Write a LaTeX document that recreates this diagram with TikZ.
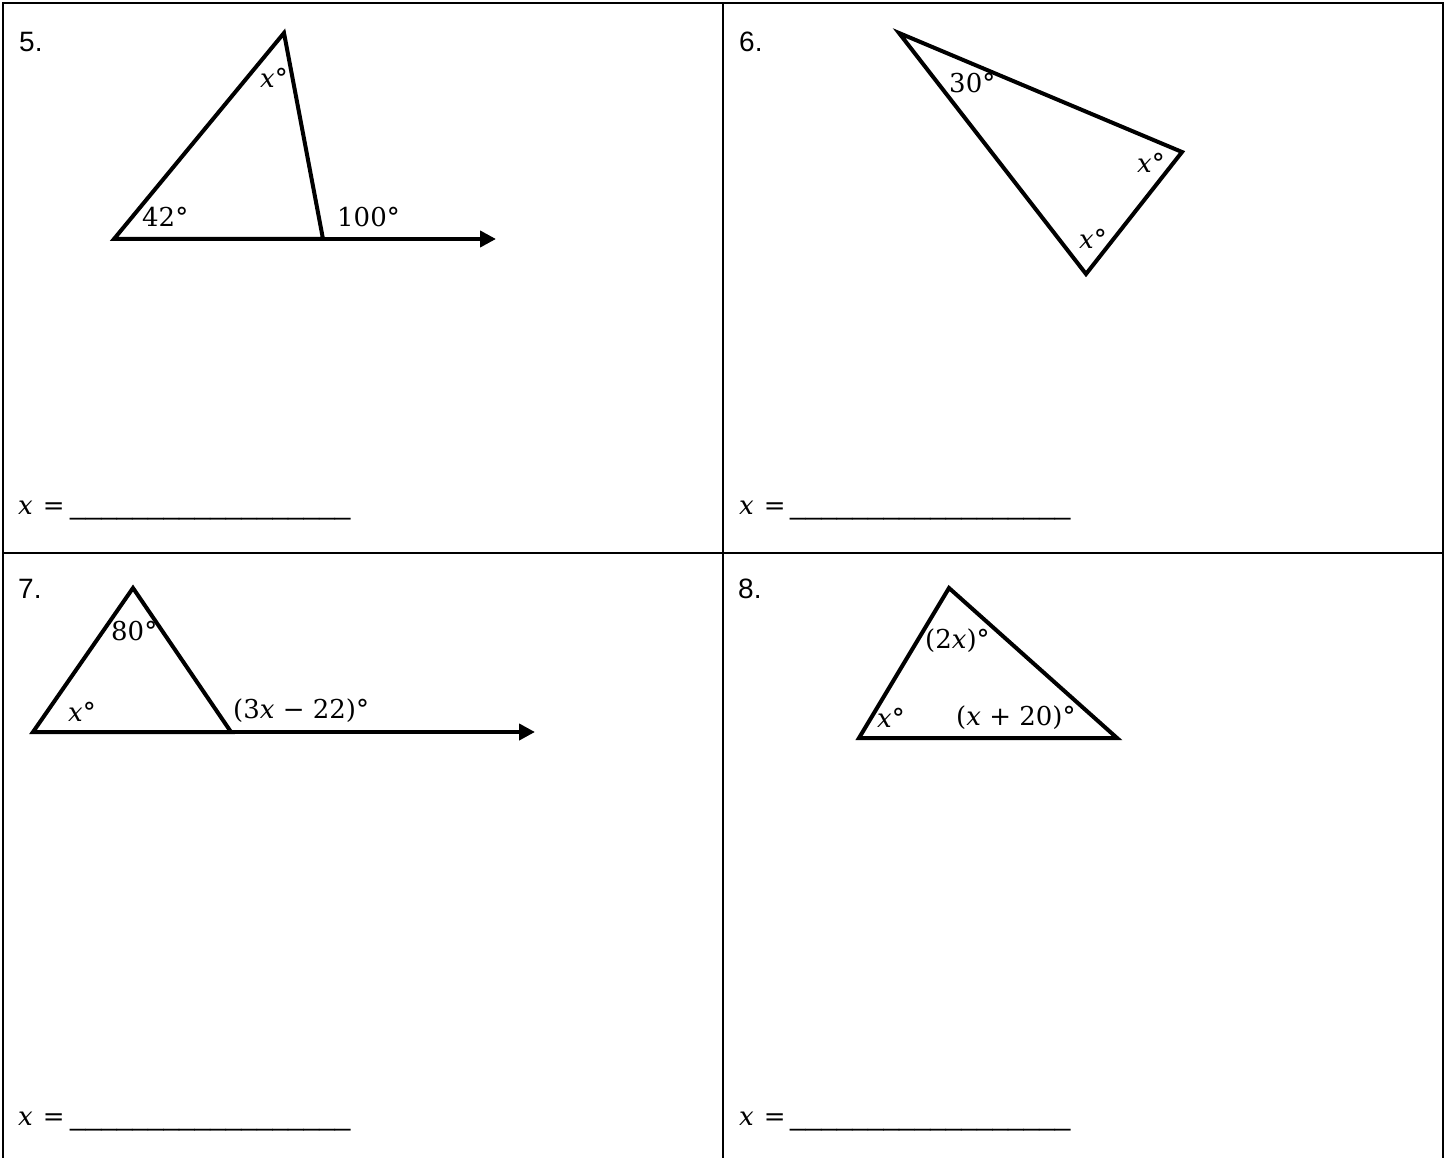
\documentclass[tikz,border=0pt]{standalone}
\usepackage{fontspec}
\newfontfamily\arialf{Liberation Sans}
\newfontfamily\cambf{DejaVu Serif}
\usetikzlibrary{arrows.meta}
\begin{document}
\begin{tikzpicture}[x=1pt,y=-1pt,
  tri/.style={line width=4pt, line join=miter},
  ray/.style={line width=4pt, -{Triangle[length=16pt,width=16pt]}},
  grid/.style={line width=2pt},
  num/.style={anchor=base west, inner sep=0pt, font=\fontsize{28}{34}\arialf},
  lab/.style={anchor=base west, inner sep=0pt, font=\fontsize{26}{31}\cambf},
  blankline/.style={anchor=base west, inner sep=0pt, font=\fontsize{28}{34}\arialf}]
\useasboundingbox (0,0) rectangle (1447,1158);
\newcommand{\ux}{\textit{x}}
\newcommand{\blank}{\_\_\_\_\_\_\_\_\_\_\_\_\_\_\_\_\_\_}
% grid
\draw[grid] (3,1160) -- (3,3) -- (1443,3) -- (1443,1160);
\draw[grid] (723,3) -- (723,1160);
\draw[grid] (3,553) -- (1443,553);
% numbers
\node[num] (n5) at (19,52) {5.};
\node[num] (n6) at (739,52) {6.};
\node[num] (n7) at (18,598) {7.};
\node[num] (n8) at (738,598) {8.};
% answer lines
\node[lab] (ans5) at (18,514) {\ux\hspace{10pt}=};
\node[blankline] (bl5) at (70,514) {\blank};
\node[lab] (ans6) at (739,514) {\ux\hspace{10pt}=};
\node[blankline] (bl6) at (790,514) {\blank};
\node[lab] (ans7) at (18,1125) {\ux\hspace{10pt}=};
\node[blankline] (bl7) at (70,1125) {\blank};
\node[lab] (ans8) at (739,1125) {\ux\hspace{10pt}=};
\node[blankline] (bl8) at (790,1125) {\blank};
% panel 5
\coordinate (a5) at (284,33);
\coordinate (b5) at (114,239);
\coordinate (c5) at (323,239);
\coordinate (r5) at (293,239);
\coordinate (t5) at (496,239);
\draw[tri] (a5) -- (b5) -- (c5) -- cycle;
\draw[ray] (r5) -- (t5);
\node[lab] (l5a) at (260,88) {\ux°};
\node[lab] (l5b) at (142,227) {42°};
\node[lab] (l5c) at (337,227) {100°};
% panel 6
\coordinate (a6) at (899,33);
\coordinate (b6) at (1182,152);
\coordinate (c6) at (1086,274);
\draw[tri] (a6) -- (b6) -- (c6) -- cycle;
\node[lab] (l6a) at (949,93) {30°};
\node[lab] (l6b) at (1137,173) {\ux°};
\node[lab] (l6c) at (1079,248) {\ux°};
% panel 7
\coordinate (a7) at (133,588);
\coordinate (b7) at (33,732);
\coordinate (c7) at (231,732);
\coordinate (r7) at (208,732);
\coordinate (t7) at (535,732);
\draw[tri] (a7) -- (b7) -- (c7) -- cycle;
\draw[ray] (r7) -- (t7);
\node[lab] (l7a) at (111,640) {80°};
\node[lab] (l7b) at (68,721) {\ux°};
\node[lab] (l7c) at (233,718) {(3\ux\ − 22)°};
% panel 8
\coordinate (a8) at (949,588);
\coordinate (b8) at (859,738);
\coordinate (c8) at (1117,738);
\draw[tri] (a8) -- (b8) -- (c8) -- cycle;
\node[lab] (l8a) at (925,648) {(2\ux)°};
\node[lab] (l8b) at (877,727) {\ux°};
\node[lab] (l8c) at (956,725) {(\ux\ + 20)°};
\end{tikzpicture}
\end{document}
